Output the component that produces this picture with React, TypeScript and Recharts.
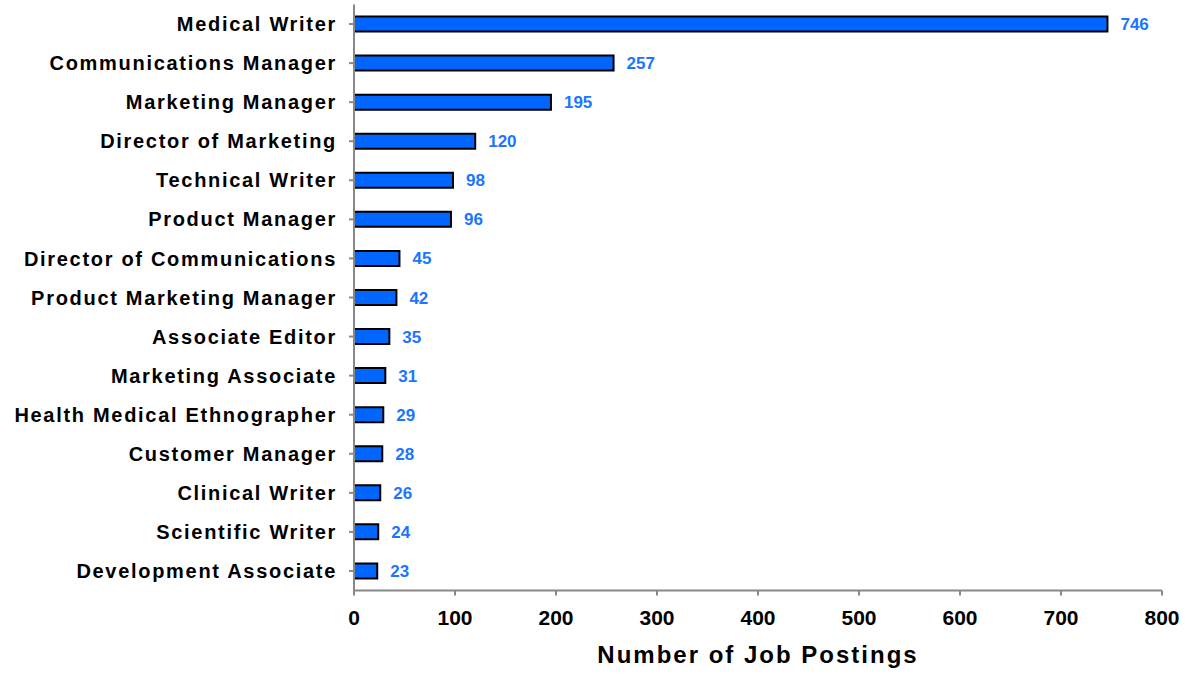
import { BarChart, Bar, XAxis, YAxis, LabelList, Label } from "recharts"

const jobTitles = [
    "Medical Writer",
    "Communications Manager",
    "Marketing Manager",
    "Director of Marketing",
    "Technical Writer",
    "Product Manager",
    "Director of Communications",
    "Product Marketing Manager",
    "Associate Editor",
    "Marketing Associate",
    "Health Medical Ethnographer",
    "Customer Manager",
    "Clinical Writer",
    "Scientific Writer",
    "Development Associate",
]

const postings = [746, 257, 195, 120, 98, 96, 45, 42, 35, 31, 29, 28, 26, 24, 23]

const xTicks = [0, 100, 200, 300, 400, 500, 600, 700, 800]

const chartData = jobTitles.map((name, i) => ({ name, count: postings[i] }))

const font = "'Liberation Sans', Arial, sans-serif"

export default function App() {
    return (
        <div style={{ position: "absolute", left: 0, top: 0, fontFamily: font }}>
            <BarChart
                width={1199}
                height={673}
                data={chartData}
                layout="vertical"
                margin={{ top: 4.5, right: 37, left: 0, bottom: 0 }}
            >
                <XAxis
                    type="number"
                    domain={[0, 800]}
                    ticks={xTicks}
                    height={82.5}
                    stroke="#888888"
                    strokeWidth={2}
                    tickSize={5}
                    tickMargin={15}
                    tick={{ fill: "#000", fontSize: 21, fontWeight: "bold", fontFamily: font }}
                >
                    <Label
                        value="Number of Job Postings"
                        position="insideBottom"
                        offset={10}
                        style={{ fill: "#000", fontSize: 24, fontWeight: "bold", fontFamily: font, letterSpacing: 2 }}
                    />
                </XAxis>
                <YAxis
                    type="category"
                    dataKey="name"
                    width={354}
                    stroke="#888888"
                    strokeWidth={2}
                    tickSize={5}
                    tickMargin={12}
                    interval={0}
                    tick={{ fill: "#000", fontSize: 20, fontWeight: "bold", fontFamily: font, letterSpacing: 1.7 }}
                />
                <Bar dataKey="count" fill="#0066ff" stroke="#000" strokeWidth={2} barSize={15} isAnimationActive={false}>
                    <LabelList
                        dataKey="count"
                        position="right"
                        offset={13}
                        style={{ fill: "#1a75ff", fontSize: 17, fontWeight: "bold", fontFamily: font }}
                    />
                </Bar>
            </BarChart>
        </div>
    )
}
